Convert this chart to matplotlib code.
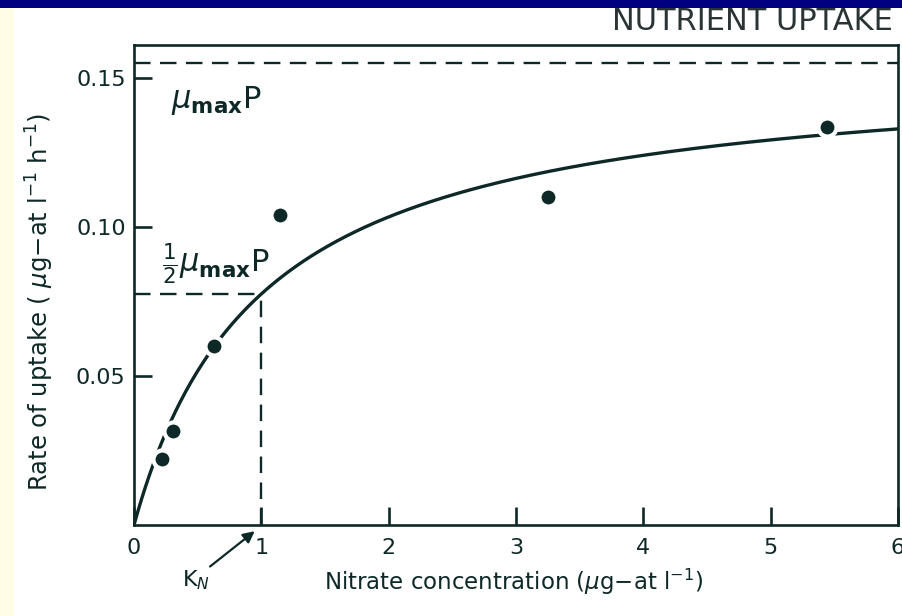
import matplotlib.pyplot as plt
import matplotlib.patches as mpatches
import numpy as np

# ------------------ Data ------------------
conc_obs   = [0.22, 0.31, 0.63, 1.15, 3.25, 5.44]       # nitrate (ug-at/l)
uptake_obs = [0.022, 0.0315, 0.060, 0.104, 0.110, 0.1335]  # uptake rate
vmax_p     = 0.155   # mu_max * P
k_n        = 1.0     # half-saturation constant
x_ticks    = [0, 1, 2, 3, 4, 5, 6]
y_ticks    = [0.05, 0.10, 0.15]
y_ticklabels = ["0.05", "0.10", "0.15"]

INK    = "#0e2828"
NAVY   = "#000080"
CREAM  = "#FFFDE6"

plt.rcParams["font.family"] = ["DejaVu Sans"]
plt.rcParams["mathtext.fontset"] = "dejavusans"

fig = plt.figure(figsize=(9.03, 6.16), dpi=100)
fig.patch.set_facecolor("white")

# slide-like frame: navy band on top, cream strip at left
fig.patches.append(mpatches.Rectangle((0, 1 - 8 / 616), 1, 8 / 616, transform=fig.transFigure,
                                      facecolor=NAVY, edgecolor="none", zorder=0))
fig.patches.append(mpatches.Rectangle((0, 0), 14 / 903, 1 - 8 / 616, transform=fig.transFigure,
                                      facecolor=CREAM, edgecolor="none", zorder=0))

fig.text(893 / 903, 1 - 22 / 616, "NUTRIENT UPTAKE", ha="right", va="center",
         fontsize=22, color="#2a3434", family=["Liberation Sans Narrow", "DejaVu Sans"])

ax = fig.add_axes([134 / 903, 1 - 525 / 616, (898 - 134) / 903, (525 - 45) / 616])
ax.set_facecolor("white")

# Michaelis-Menten curve through the fitted parameters
s = np.linspace(0, 6, 400)
ax.plot(s, vmax_p * s / (k_n + s), color=INK, lw=2.4, zorder=2)

# dashed guide lines
ax.plot([0, 6], [vmax_p, vmax_p], color=INK, lw=1.7, dashes=(7, 4), zorder=1)
ax.plot([0, k_n], [vmax_p / 2, vmax_p / 2], color=INK, lw=1.7, dashes=(7, 4), zorder=1)
ax.plot([k_n, k_n], [0, vmax_p / 2], color=INK, lw=1.7, dashes=(7, 4), zorder=1)

# observations (white ring breaks the curve like the original drawing)
ax.plot(conc_obs, uptake_obs, "o", color=INK, ms=13, mec="white", mew=3, zorder=3)

ax.set_xlim(0, 6)
ax.set_ylim(0, 0.161)
ax.set_xticks(x_ticks)
ax.set_xticklabels([str(v) for v in x_ticks])
ax.set_yticks(y_ticks)
ax.set_yticklabels(y_ticklabels)
ax.tick_params(direction="in", length=13, width=1.9, colors=INK, labelsize=16)
ax.tick_params(axis="x", pad=9)
ax.tick_params(axis="y", pad=6)
for sp in ax.spines.values():
    sp.set_linewidth(1.9)
    sp.set_color(INK)

ax.text(0.29, 0.1425, r"$\mu_{\mathbf{max}}\mathrm{P}$", fontsize=22, color=INK, va="center")
ax.text(0.22, 0.0875, r"$\frac{1}{2}\mu_{\mathbf{max}}\mathrm{P}$", fontsize=22, color=INK,
        va="center")

# K_N arrow below the axis
ax.annotate("", xy=(0.965, -0.0015), xytext=(0.58, -0.0145), annotation_clip=False,
            arrowprops=dict(arrowstyle="-|>", color=INK, lw=1.6, mutation_scale=17))
ax.text(0.49, -0.0185, r"K$_N$", fontsize=16, color=INK, ha="center", va="center",
        clip_on=False)

fig.text(514 / 903, 1 - 582 / 616, r"Nitrate concentration ($\mu$g$-$at l$^{-1}$)",
         ha="center", va="center", fontsize=16.5, color=INK)
fig.text(40 / 903, 1 - 302 / 616, r"Rate of uptake ( $\mu$g$-$at l$^{-1}$ h$^{-1}$)",
         ha="center", va="center", rotation=90, fontsize=17.5, color=INK)

fig.savefig("out.png", dpi=100)
